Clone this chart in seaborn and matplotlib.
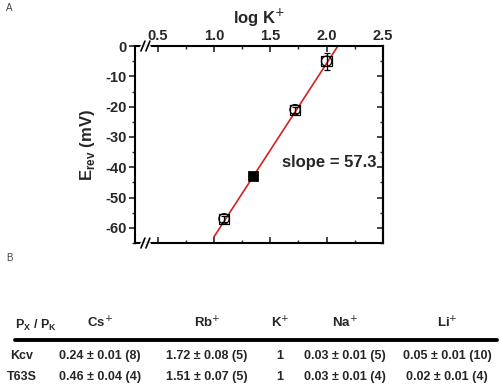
import matplotlib
matplotlib.use("Agg")
import matplotlib.pyplot as plt
import seaborn as sns
import numpy as np
import pandas as pd
from matplotlib.ticker import MultipleLocator

sns.set_theme(style="white")
plt.rcParams['font.family'] = ['Liberation Sans', 'DejaVu Sans']

# ---- data ----
log_k = [1.09, 1.35, 1.72, 2.00]
e_rev = [-57.0, -43.0, -21.0, -5.0]
e_err = [1.0, 1.0, 1.0, 2.8]
filled = [False, True, False, False]
slope = 57.3
intercept = -120.3
fit_x = [1.0, 2.1]

x_ticks = [0.5, 1.0, 1.5, 2.0, 2.5]
y_ticks = [0, -10, -20, -30, -40, -50, -60]

row_names = ["Kcv", "T63S"]
col_names = ["Cs$^{+}$", "Rb$^{+}$", "K$^{+}$", "Na$^{+}$", "Li$^{+}$"]
cs_vals = ["0.24 ± 0.01 (8)", "0.46 ± 0.04 (4)"]
rb_vals = ["1.72 ± 0.08 (5)", "1.51 ± 0.07 (5)"]
k_vals = ["1", "1"]
na_vals = ["0.03 ± 0.01 (5)", "0.03 ± 0.01 (4)"]
li_vals = ["0.05 ± 0.01 (10)", "0.02 ± 0.01 (4)"]

df = pd.DataFrame({"x": log_k, "y": e_rev, "err": e_err, "filled": filled})
fit_df = pd.DataFrame({"x": fit_x, "y": [slope * v + intercept for v in fit_x]})

fig = plt.figure(figsize=(5.0, 3.87), dpi=100)
ax = fig.add_axes([0.27, 0.372, 0.496, 0.509])

sns.lineplot(data=fit_df, x="x", y="y", ax=ax, color="#d42020", lw=1.2, zorder=2)
ax.errorbar(df["x"], df["y"], yerr=df["err"], fmt="none", ecolor="black",
            elinewidth=0.9, capsize=2.5, capthick=0.9, zorder=3)
op = df[~df["filled"]]
fl = df[df["filled"]]
sns.scatterplot(data=op, x="x", y="y", ax=ax, marker="s", s=55,
                facecolor="none", edgecolor="black", linewidth=0.9, zorder=4)
sns.scatterplot(data=op, x="x", y="y", ax=ax, marker="o", s=55,
                facecolor="none", edgecolor="black", linewidth=0.9, zorder=4)
sns.scatterplot(data=fl, x="x", y="y", ax=ax, marker="s", s=48,
                color="black", edgecolor="black", zorder=5)

ax.set_xlim(0.3, 2.5)
ax.set_ylim(-65, 0)
ax.set_xticks(x_ticks)
ax.set_yticks(y_ticks)
ax.xaxis.set_minor_locator(MultipleLocator(0.25))
ax.yaxis.set_minor_locator(MultipleLocator(5))
ax.xaxis.set_ticks_position("both")
ax.xaxis.set_label_position("top")
ax.tick_params(axis="x", which="both", direction="in", top=True, bottom=True,
               labeltop=True, labelbottom=False)
ax.tick_params(axis="y", which="both", direction="out", left=True, right=False)
ax.tick_params(axis="both", which="major", length=4, width=1.2, labelsize=10.5, pad=2)
ax.tick_params(axis="both", which="minor", length=2.5, width=1.0)
ax.set_xticklabels(["0.5", "1.0", "1.5", "2.0", "2.5"], fontweight="bold")
ax.set_yticklabels([str(v) for v in y_ticks], fontweight="bold")
# right-side inward ticks
ax2 = ax.secondary_yaxis("right")
ax2.set_yticks(y_ticks)
ax2.yaxis.set_minor_locator(MultipleLocator(5))
ax2.tick_params(axis="y", which="both", direction="in", labelright=False)
ax2.tick_params(which="major", length=4, width=1.2)
ax2.tick_params(which="minor", length=2.5, width=1.0)
ax2.spines["right"].set_linewidth(1.5)

for s in ax.spines.values():
    s.set_linewidth(1.5)
    s.set_color("black")

ax.set_xlabel("log K$^{+}$", fontsize=12, fontweight="bold", labelpad=4)
ax.set_ylabel("E$_{\\mathregular{rev}}$ (mV)", fontsize=12, fontweight="bold", labelpad=6)
ax.text(1.6, -38.5, "slope = 57.3", fontsize=12, fontweight="bold", va="center", ha="left")

# axis break marks
for yb in (0.0, 1.0):
    ax.plot([0.025, 0.055], [yb, yb], transform=ax.transAxes, color="white", lw=2.0,
            clip_on=False, zorder=6)
    for xb in (0.032, 0.052):
        ax.plot([xb - 0.008, xb + 0.008], [yb - 0.025, yb + 0.025], transform=ax.transAxes,
                color="black", lw=1.2, clip_on=False, zorder=7)

fig.text(0.012, 0.972, "A", fontsize=7, color="#444444")
fig.text(0.012, 0.325, "B", fontsize=7, color="#444444")

# table
def fx(px):
    return px / 500.0
def fy(py):
    return 1 - py / 387.0

fig.text(fx(15), fy(325), "P$_{\\mathregular{X}}$ / P$_{\\mathregular{K}}$", fontsize=9, fontweight="bold",
         ha="left", va="center")
col_x = [100, 207, 280, 345, 447]
for cx, name in zip(col_x, col_names):
    fig.text(fx(cx), fy(323), name, fontsize=9.5, fontweight="bold", ha="center", va="center")
fig.add_artist(plt.Line2D([fx(15), fx(497)], [fy(340), fy(340)], color="black", lw=2.8,
                          transform=fig.transFigure))
row_y = [356, 377]
cols = [cs_vals, rb_vals, k_vals, na_vals, li_vals]
for i, ry in enumerate(row_y):
    fig.text(fx(22), fy(ry), row_names[i], fontsize=9, fontweight="bold", ha="center", va="center")
    for cx, vals in zip(col_x, cols):
        fig.text(fx(cx), fy(ry), vals[i], fontsize=9, fontweight="bold", ha="center", va="center")

fig.savefig("out.png", dpi=100)
